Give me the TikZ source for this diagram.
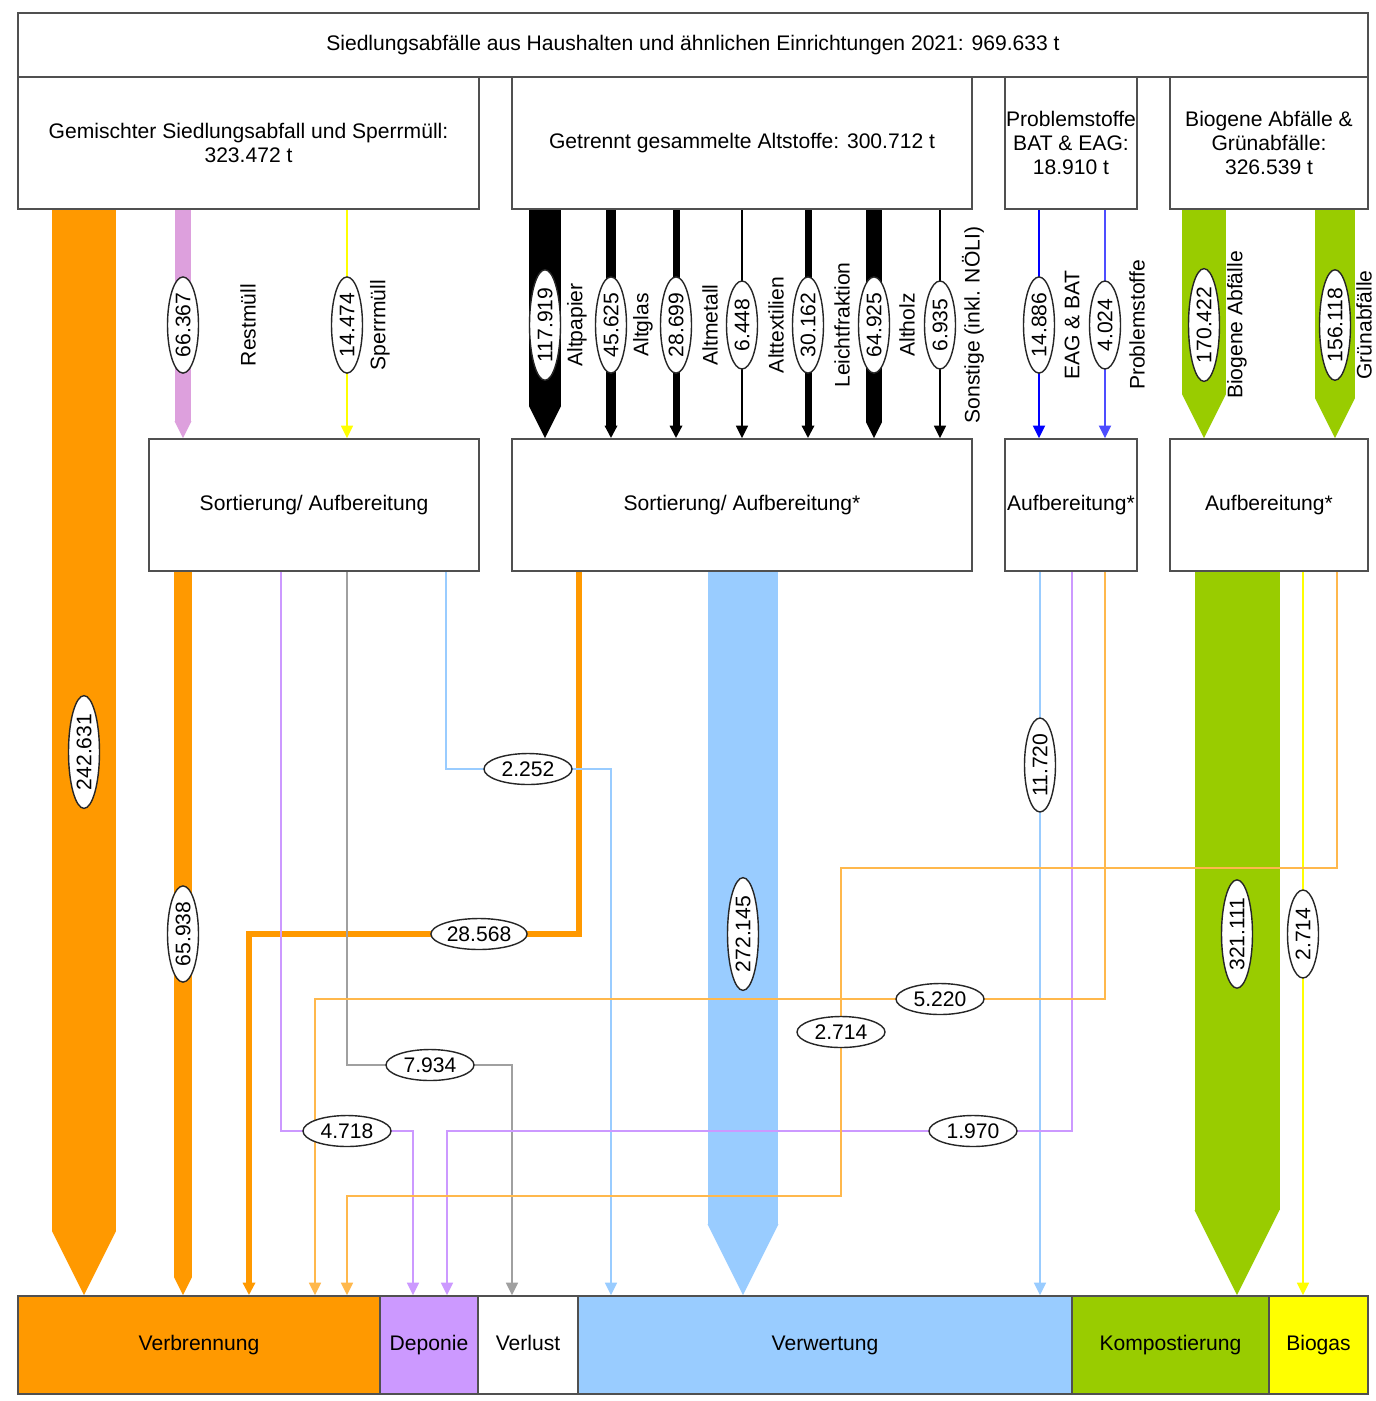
\documentclass[tikz,border=0pt]{standalone}
\usepackage{fontspec}
\setmainfont{Liberation Sans}
\usetikzlibrary{arrows.meta,shapes.geometric,backgrounds}
\definecolor{orng}{HTML}{FF9900}
\definecolor{rosa}{HTML}{DDA0DD}
\definecolor{lila}{HTML}{CC99FF}
\definecolor{hblau}{HTML}{99CCFF}
\definecolor{gruen}{HTML}{99CC00}
\definecolor{gelb}{HTML}{FFFF00}
\definecolor{grau}{HTML}{A0A0A0}
\definecolor{blau}{HTML}{0000FF}
\definecolor{blauhell}{HTML}{4D4DFF}
\definecolor{rahmen}{HTML}{505050}

\begin{document}
\begin{tikzpicture}
[x=0.02cm, y=-0.02cm, font=\fontsize{12}{13.8}\selectfont,
box/.style={rectangle, draw=rahmen, line width=1pt, inner sep=0pt, minimum height=2.64cm, align=center},
sink/.style={rectangle, draw=rahmen, line width=1pt, inner sep=0pt, minimum height=1.96cm, text height=9pt, text depth=2.5pt},
lbl/.style={ellipse, draw=black!85, line width=0.8pt, fill=white, inner sep=1pt, minimum width=1.76cm, minimum height=0.62cm},
side/.style={rotate=90},
fatflow/.style={line width=#1, -{Triangle[length=#1, width=#1, line width=0pt]}},
headtip/.style={-{Triangle[length=0.25cm, width=0.24cm]}},
slim/.style={line width=0.03cm, headtip}]

\useasboundingbox (0,0) rectangle (1376,1401);

\node[box, minimum width=27cm, minimum height=1.28cm] (total) at (693,45) {Siedlungsabfälle aus Haushalten und ähnlichen Einrichtungen 2021: 969.633 t};
\node[box, minimum width=9.22cm] (src1) at (248.5,143) {Gemischter Siedlungsabfall und Sperrmüll:\\323.472 t};
\node[box, minimum width=9.2cm] (src2) at (742,143) {Getrennt gesammelte Altstoffe: 300.712 t};
\node[box, minimum width=2.64cm] (src3) at (1071,143) {Problemstoffe\\BAT \& EAG:\\18.910 t};
\node[box, minimum width=3.96cm] (src4) at (1269,143) {Biogene Abfälle \&\\Grünabfälle:\\326.539 t};

\node[box, minimum width=6.6cm] (proc1) at (314,505) {Sortierung/ Aufbereitung};
\node[box, minimum width=9.2cm] (proc2) at (742,505) {Sortierung/ Aufbereitung*};
\node[box, minimum width=2.64cm] (proc3) at (1071,505) {Aufbereitung*};
\node[box, minimum width=3.96cm] (proc4) at (1269,505) {Aufbereitung*};

\node[sink, fill=orng, minimum width=7.24cm] (verb) at (199,1345) {Verbrennung};
\node[sink, fill=lila, minimum width=1.96cm] (depo) at (429,1345) {Deponie};
\node[sink, fill=white, minimum width=2cm] (verl) at (528,1345) {Verlust};
\node[sink, fill=hblau, minimum width=9.88cm] (verw) at (825,1345) {Verwertung};
\node[sink, fill=gruen, minimum width=3.94cm] (komp) at (1170.5,1345) {Kompostierung};
\node[sink, fill=gelb, minimum width=1.98cm] (biog) at (1318.5,1345) {Biogas};

\foreach \x/\t in {248/Restmüll, 380/Sperrmüll, 577/Altpapier, 643/Altglas, 710/Altmetall,
  776/Alttextilien, 842/Leichtfraktion, 907/Altholz, 973/Sonstige (inkl. NÖLI),
  1072/EAG \& BAT, 1137/Problemstoffe, 1237/Biogene Abfälle, 1364/Grünabfälle}
  \node[side] (t\x) at (\x,325) {\t};

\foreach \x/\v in {183/66.367, 347/14.474, 545/117.919, 611/45.625, 676/28.699, 742/6.448,
  808/30.162, 874/64.925, 940/6.935, 1039/14.886, 1105/4.024, 1204/170.422, 1335/156.118}
  \node[lbl, side] (l\x) at (\x,325) {\v};

\node[lbl, side] (l242) at (84,752) {242.631};
\node[lbl, side] (l65) at (183,934) {65.938};
\node[lbl, side] (l272) at (743,934) {272.145};
\node[lbl, side] (l321) at (1237,934) {321.111};
\node[lbl, side] (l2714y) at (1303,934) {2.714};
\node[lbl, side] (l1172) at (1040,765) {11.720};
\node[lbl] (l2252) at (528,769) {2.252};
\node[lbl] (l28568) at (479,934) {28.568};
\node[lbl] (l5220) at (940,999) {5.220};
\node[lbl] (l2714o) at (841,1032) {2.714};
\node[lbl] (l7934) at (430,1065) {7.934};
\node[lbl] (l4718) at (347,1131) {4.718};
\node[lbl] (l1970) at (973,1131) {1.970};

\coordinate (b4718a) at (281,1131);  \coordinate (b4718b) at (413,1131);
\coordinate (b7934a) at (347,1065);  \coordinate (b7934b) at (512,1065);
\coordinate (b2252a) at (446,769);   \coordinate (b2252b) at (611,769);
\coordinate (b28568a) at (579,934);  \coordinate (b28568b) at (249,934);
\coordinate (b1970a) at (1072,1131); \coordinate (b1970b) at (447,1131);
\coordinate (b5220a) at (1105,999);  \coordinate (b5220b) at (315,999);
\coordinate (b2714s) at (1337,868);  \coordinate (b2714a) at (841,868);
\coordinate (b2714b) at (347,1196);

\begin{scope}[on background layer]
\fill[white] (0,0) rectangle (1376,1401);

\draw[orng, fatflow=1.28cm] (src1.south -| l242) -- (verb.north -| l242);
\draw[rosa, fatflow=0.34cm] (src1.south -| l183) -- (proc1.north -| l183);
\draw[gelb, slim] (src1.south -| l347) -- (proc1.north -| l347);
\foreach \x/\w in {545/0.64cm, 874/0.32cm}
  \draw[black, fatflow=\w] (src2.south -| l\x) -- (proc2.north -| l\x);
\foreach \x/\w in {611/0.2cm, 676/0.14cm, 742/0.03cm, 808/0.14cm, 940/0.03cm}
  \draw[black, line width=\w, headtip] (src2.south -| l\x) -- (proc2.north -| l\x);
\draw[blau, line width=0.04cm, headtip] (src3.south -| l1039) -- (proc3.north -| l1039);
\draw[blauhell, line width=0.04cm, headtip] (src3.south -| l1105) -- (proc3.north -| l1105);
\foreach \x/\w in {1204/0.88cm, 1335/0.8cm}
  \draw[gruen, fatflow=\w] (src4.south -| l\x) -- (proc4.north -| l\x);

\draw[orng, fatflow=0.36cm] (proc1.south -| l65) -- (verb.north -| l65);
\draw[hblau, fatflow=1.42cm] (proc2.south -| l272) -- (verw.north -| l272);
\draw[gruen, fatflow=1.7cm] (proc4.south -| l321) -- (komp.north -| l321);

\draw[orng, line width=0.11cm, headtip] (proc2.south -| b28568a) |- (b28568b) -- (verb.north -| b28568b);
\draw[lila, slim] (proc1.south -| b4718a) |- (b4718b) -- (depo.north -| b4718b);
\draw[grau, slim] (proc1.south -| b7934a) |- (b7934b) -- (verl.north -| b7934b);
\draw[hblau, slim] (proc1.south -| b2252a) |- (b2252b) -- (verw.north -| b2252b);
\draw[hblau, slim] (proc3.south -| l1172) -- (verw.north -| l1172);
\draw[lila, slim] (proc3.south -| b1970a) |- (b1970b) -- (depo.north -| b1970b);
\draw[orng!70, slim] (proc3.south -| b5220a) |- (b5220b) -- (verb.north -| b5220b);
\draw[gelb, slim] (proc4.south -| l2714y) -- (biog.north -| l2714y);
\draw[orng!70, slim] (proc4.south -| b2714s) |- (b2714a) |- (b2714b) -- (verb.north -| b2714b);
\end{scope}
\end{tikzpicture}
\end{document}
